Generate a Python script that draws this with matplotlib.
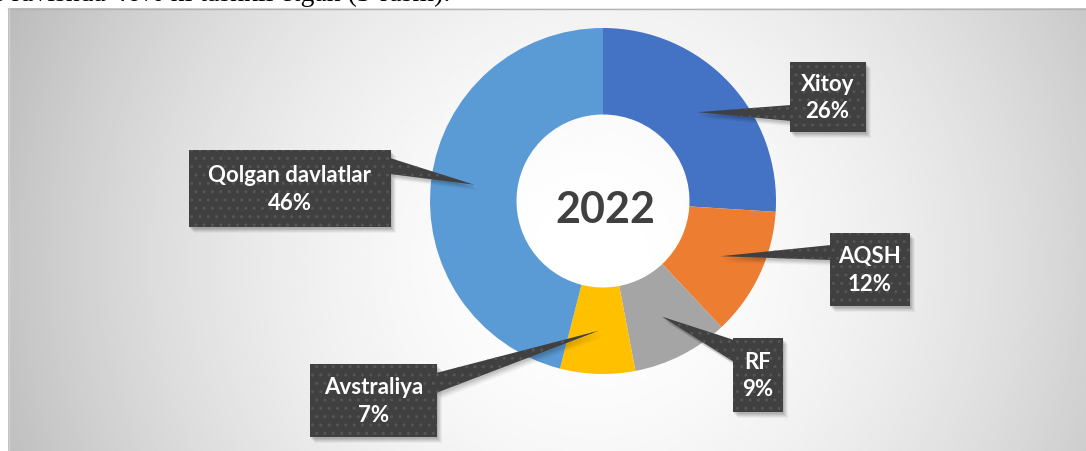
import numpy as np
import matplotlib
matplotlib.use('Agg')
import matplotlib.pyplot as plt
from matplotlib.patches import Rectangle, Polygon

# data
countries = ['Xitoy', 'AQSH', 'RF', 'Avstraliya', 'Qolgan davlatlar']
shares = [26, 12, 9, 7, 46]
colors = ['#4472C4', '#ED7D31', '#A5A5A5', '#FFC000', '#5B9BD5']
year = '2022'

W, H = 1086, 451
def Y(y):
    # pixel row (from top) -> data y (from bottom)
    return H - y

fig = plt.figure(figsize=(W / 100, H / 100), dpi=100)
ax = fig.add_axes([0, 0, 1, 1])

# radial grey background of the chart area
gx, gy = np.meshgrid(np.linspace(8, W, 540), np.linspace(8, H, 230))
r = np.sqrt((gx - 590) ** 2 + (gy - 260) ** 2)
shade = 1 - 0.24 * (r / 600) ** 1.8
shade = np.clip(shade, 0, 1)
ax.imshow(shade, cmap='gray', vmin=0, vmax=1, extent=(8, W, Y(H), Y(8)),
          origin='upper', aspect='auto', zorder=0, interpolation='bilinear')
ax.plot([8, W], [Y(8.5), Y(8.5)], color='#b4b4b4', lw=1, zorder=1)
ax.plot([8.5, 8.5], [Y(8), Y(H)], color='#d0d0d0', lw=1, zorder=1)

# donut
cx, cy, R = 603, Y(201), 173
wedges, _ = ax.pie(shares, colors=colors, startangle=90, counterclock=False,
                   radius=R, center=(cx, cy), wedgeprops=dict(width=R * 0.5, linewidth=0))
for w in wedges:
    w.set_zorder(2)

ax.text(cx + 2, Y(210), year, ha='center', va='center', fontsize=31,
        fontweight='bold', color='#404040', family='Lato', zorder=3)

# label boxes: centre x, centre y (px from top), width, height, leader base points
boxes = {
    'Xitoy': (827.5, 97, 76, 70, [(791, 105), (791, 121)]),
    'AQSH': (870, 269.5, 80, 73, [(831, 245), (831, 260)]),
    'RF': (757.5, 375, 50, 74, [(734, 340), (734, 362)]),
    'Avstraliya': (373.5, 400.5, 127, 73, [(436, 373), (436, 393)]),
    'Qolgan davlatlar': (290, 188.5, 202, 77, [(390, 158), (390, 174)]),
}

for w, name, val in zip(wedges, countries, shares):
    bx, by, bw, bh, base = boxes[name]
    mid = np.deg2rad((w.theta1 + w.theta2) / 2)
    tip = (cx + 0.75 * R * np.cos(mid), cy + 0.75 * R * np.sin(mid))
    pts = [tip] + [(p[0], Y(p[1])) for p in base]
    # soft shadow
    for k, a in [(6, 0.04), (5, 0.05), (4, 0.06), (3, 0.07), (2, 0.08)]:
        ax.add_patch(Rectangle((bx - bw / 2 + k - 1, Y(by + bh / 2) - k), bw, bh,
                               facecolor='black', alpha=a, lw=0, zorder=4))
        ax.add_patch(Polygon([(x + k - 1, y - k) for x, y in pts], closed=True,
                             facecolor='black', alpha=a * 0.8, lw=0, zorder=4))
    ax.add_patch(Polygon(pts, closed=True, facecolor='#404040', edgecolor='#555555',
                         hatch='..', lw=0, zorder=5))
    ax.add_patch(Rectangle((bx - bw / 2, Y(by + bh / 2)), bw, bh, facecolor='#404040',
                           edgecolor='#555555', hatch='..', lw=0, zorder=5))
    ax.text(bx, Y(by + 1), f'{name}\n{val}%', ha='center', va='center', fontsize=16,
            fontweight='bold', color='white', family='Lato', linespacing=1.4, zorder=6)

# clipped line of document text above the chart
ax.text(-6, Y(1), 's ravishda 46% ni tashkil etgan (3-rasm).', ha='left', va='baseline',
        fontsize=20, family='Liberation Serif', color='black', zorder=7, clip_on=False)

ax.set_xlim(0, W)
ax.set_ylim(0, H)
ax.set_aspect('auto')
ax.axis('off')

fig.savefig('out.png', dpi=100, facecolor='white')
